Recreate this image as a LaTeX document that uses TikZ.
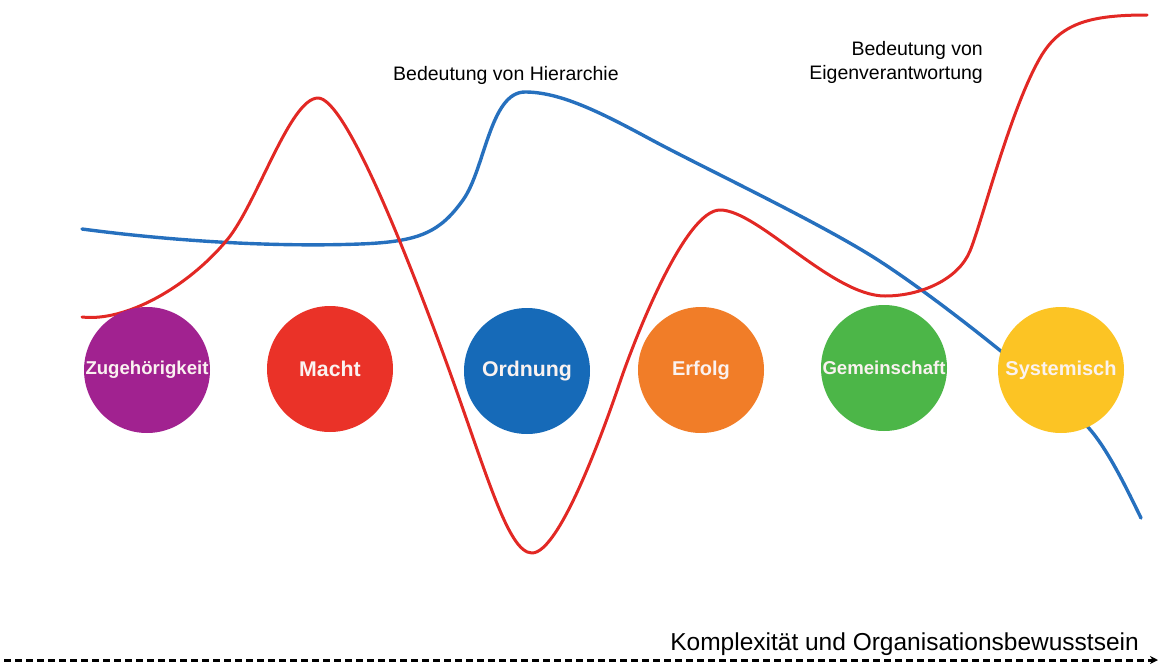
\documentclass[tikz,border=0pt]{standalone}
\usepackage{fontspec}
\setmainfont{Liberation Sans}
\usetikzlibrary{arrows.meta}

\definecolor{cPurple}{RGB}{161,34,144}
\definecolor{cRed}{RGB}{234,50,40}
\definecolor{cBlue}{RGB}{22,106,184}
\definecolor{cOrange}{RGB}{241,125,40}
\definecolor{cGreen}{RGB}{76,182,72}
\definecolor{cYellow}{RGB}{252,196,36}
\definecolor{curveRed}{RGB}{226,40,36}
\definecolor{curveBlue}{RGB}{38,112,190}
\definecolor{stageText}{RGB}{250,242,240}

\begin{document}
\begin{tikzpicture}[x=1pt,y=-1pt,
  stage/.style={circle, minimum size=126pt, inner sep=0pt, text=stageText,
    font=\bfseries\fontsize{20.5}{24}\selectfont},
  stagebig/.style={stage, font=\bfseries\fontsize{21.3}{25}\selectfont},
  stagesmall/.style={stage, font=\bfseries\fontsize{20}{24}\selectfont},
  stagelong/.style={stage, font=\bfseries\fontsize{18.6}{22}\selectfont},
  curvelabel/.style={inner sep=0pt, text=black, font=\fontsize{19.5}{23}\selectfont},
  axislabel/.style={inner sep=0pt, text=black, font=\fontsize{24.5}{28}\selectfont},
  redcurve/.style={draw=curveRed, line width=3pt, line cap=round, line join=round},
  bluecurve/.style={draw=curveBlue, line width=3.4pt, line cap=round, line join=round},
  axisline/.style={draw=black, line width=3pt, dash pattern=on 7pt off 4pt,
    -{Stealth[length=8pt,width=8pt]}}
]
\useasboundingbox (0,0) rectangle (1160,664);

% importance of hierarchy
\draw[bluecurve] (82,229)
  .. controls (180,242) and (280,247) .. (360,244)
  .. controls (420,241.75) and (440,232) .. (463,200)
  .. controls (485,169.4) and (490,92) .. (525,92)
  .. controls (560,92) and (600,112) .. (650,139)
  .. controls (700,166) and (810,218) .. (870,255)
  .. controls (930,292) and (1040,380) .. (1085,424)
  .. controls (1105,444) and (1125,485) .. (1141,518);

% importance of self-responsibility
\draw[redcurve] (82,317)
  .. controls (125,322) and (187,288) .. (227,240)
  .. controls (257,204) and (290,98) .. (318,98)
  .. controls (345,98) and (405,250.5) .. (440,345)
  .. controls (485,466.5) and (507,553) .. (532,553)
  .. controls (560,553) and (605,426) .. (620,382)
  .. controls (635,338) and (685,210) .. (720,210)
  .. controls (758,210) and (832,296) .. (885,296)
  .. controls (920,296) and (958,280) .. (970,251)
  .. controls (982,222) and (1010,110) .. (1040,58)
  .. controls (1060,23) and (1090,15) .. (1147,15);

% stages
\node[stagelong, fill=cPurple] (zug) at (147,370) {Zugehörigkeit};
\node[stagebig, fill=cRed]     (macht) at (330,369) {Macht};
\node[stagebig, fill=cBlue]    (ord) at (527,371) {Ordnung};
\node[stagesmall, fill=cOrange](erf) at (701,370) {Erfolg};
\node[stagelong, fill=cGreen]  (gem) at (884,368) {Gemeinschaft};
\node[stagesmall, fill=cYellow](sys) at (1061,370) {Systemisch};

% curve labels
\node[curvelabel, anchor=base west] (hier) at (393,80) {Bedeutung von Hierarchie};
\node[curvelabel, anchor=base east] (eig1) at (983,55) {Bedeutung von};
\node[curvelabel, anchor=base east] (eig2) at (983,79) {Eigenverantwortung};

% axis
\coordinate (axisStart) at (4,660);
\coordinate (axisEnd) at (1158,660);
\draw[axisline] (axisStart) -- (axisEnd);
\node[axislabel, anchor=base east] (axlab) at (1139,650) {Komplexität und Organisationsbewusstsein};
\end{tikzpicture}
\end{document}
